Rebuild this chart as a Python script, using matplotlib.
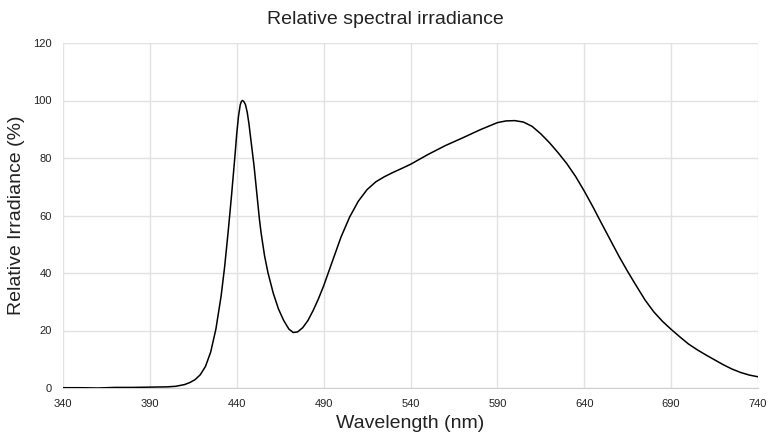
import matplotlib
matplotlib.use("Agg")
import matplotlib.pyplot as plt

wavelength = [340, 350, 360, 370, 380, 390, 400, 405, 410, 413, 416, 419, 422, 425, 428,
              431, 433, 435, 437, 439, 440, 441, 442, 442.7, 443.3, 444, 445, 446, 447, 449,
              450, 451, 452, 453, 454, 456, 458, 461, 464, 467, 470, 472.5, 475, 478, 481,
              484, 487, 490, 495, 500, 505, 510, 515, 520, 525, 530, 534, 540, 550, 560,
              570, 580, 590, 595, 600, 605, 610, 615, 620, 625, 630, 635, 640, 645, 650,
              655, 660, 665, 670, 675, 680, 685, 690, 695, 700, 705, 710, 715, 720, 725,
              730, 735, 740]
irradiance = [0.1, 0.1, 0.0, 0.2, 0.2, 0.3, 0.4, 0.6, 1.2, 1.9, 2.9, 4.6, 7.5, 12.5, 20.5,
              32, 42, 54, 67, 81, 88.5, 94.5, 98.5, 99.7, 100, 99.7, 98.6, 96, 92, 82,
              77, 71, 65, 59, 54, 46, 40, 33, 27.5, 23.5, 20.5, 19.3, 19.5, 21, 23.5,
              27, 31, 35.5, 44, 52.5, 59.5, 65, 69, 71.7, 73.5, 75, 76.1, 77.8, 81.2, 84.3,
              87, 89.8, 92.3, 92.9, 93, 92.5, 91, 88.4, 85.3, 81.8, 78, 73.6, 68.5, 63, 57.2,
              51.5, 45.8, 40.5, 35.5, 30.6, 26.5, 23.2, 20.4, 17.8, 15.3, 13.3, 11.5, 9.8, 8.1, 6.6,
              5.4, 4.5, 3.9]

x_ticks = [340, 390, 440, 490, 540, 590, 640, 690, 740]
y_ticks = [0, 20, 40, 60, 80, 100, 120]

plt.rcParams['font.family'] = ['Liberation Sans', 'DejaVu Sans']

fig = plt.figure(figsize=(7.7, 4.41), dpi=100)
ax = fig.add_axes([63/770, 1-388/441, (758-63)/770, (388-43)/441])

ax.plot(wavelength, irradiance, color='black', linewidth=1.1, zorder=3)

ax.set_xlim(340, 740)
ax.set_ylim(0, 120)
ax.set_xticks(x_ticks)
ax.set_yticks(y_ticks)
ax.grid(True, color='#e2e2e2', linewidth=1.0, zorder=0)
ax.set_axisbelow(True)
for s in ax.spines.values():
    s.set_visible(False)
ax.spines['bottom'].set_visible(True)
ax.spines['bottom'].set_color('#d0d0d0')
ax.tick_params(length=0, labelsize=8, pad=8, colors='#222222')

ax.set_xlabel('Wavelength (nm)', fontsize=14, labelpad=4, color='#222222')
ax.set_ylabel('Relative Irradiance (%)', fontsize=14, labelpad=6, color='#222222')
fig.text(0.5, 1-20/441, 'Relative spectral irradiance', ha='center', va='center',
         fontsize=14, color='#222222')

fig.savefig('out.png', dpi=100)
